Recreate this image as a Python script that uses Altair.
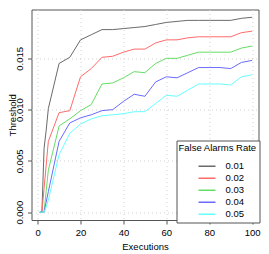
import altair as alt
import pandas as pd

executions = [1, 2, 3, 4, 5, 10, 15, 20, 25, 30, 35, 40, 45, 50,
              55, 60, 65, 70, 75, 80, 85, 90, 95, 100]
rates = ["0.01", "0.02", "0.03", "0.04", "0.05"]

thr_001 = [0, 0, 0.0062, 0.0080, 0.0101, 0.0145, 0.0151, 0.0168, 0.0173, 0.0178,
           0.0178, 0.0179, 0.0180, 0.0181, 0.0183, 0.0185, 0.0186, 0.0187, 0.0187,
           0.0187, 0.0187, 0.0187, 0.0189, 0.0190]
thr_002 = [0, 0, 0.0023, 0.0046, 0.0069, 0.0097, 0.0099, 0.0132, 0.0140, 0.0151,
           0.0152, 0.0156, 0.0159, 0.0159, 0.0165, 0.0168, 0.0168, 0.0170, 0.0171,
           0.0171, 0.0171, 0.0171, 0.0175, 0.01765]
thr_003 = [0, 0, 0, 0.0021, 0.0041, 0.0084, 0.0091, 0.0099, 0.0105, 0.0125,
           0.0126, 0.0131, 0.0137, 0.0136, 0.0145, 0.0150, 0.0150, 0.0153, 0.0156,
           0.0156, 0.0156, 0.0156, 0.0160, 0.0162]
thr_004 = [0, 0, 0, 0.0010, 0.0020, 0.0069, 0.0087, 0.0092, 0.0095, 0.0099,
           0.0100, 0.0108, 0.0115, 0.0113, 0.0127, 0.0132, 0.0131, 0.0136, 0.0141,
           0.0141, 0.0141, 0.0140, 0.0146, 0.0148]
thr_005 = [0, 0, 0, 0.0005, 0.0012, 0.0056, 0.0077, 0.0086, 0.0091, 0.0094,
           0.0095, 0.0096, 0.0098, 0.0098, 0.0106, 0.0114, 0.0113, 0.0119, 0.0125,
           0.0125, 0.0125, 0.0124, 0.0132, 0.0134]

colors = ["#6a6a6a", "#ff6a6a", "#66dd66", "#6a6aff", "#66ffff"]
x_ticks = [0, 20, 40, 60, 80, 100]
y_ticks = [0.0, 0.005, 0.010, 0.015]

series = [thr_001, thr_002, thr_003, thr_004, thr_005]
rows = []
for rate, vals in zip(rates, series):
    for x, v in zip(executions, vals):
        rows.append({"Executions": x, "Threshold": v, "rate": rate})
df = pd.DataFrame(rows)

FONT = "Liberation Sans"
FS = 9.5

chart = alt.Chart(df).mark_line(strokeWidth=1, clip=True).encode(
    x=alt.X("Executions:Q",
            scale=alt.Scale(domain=[-2.85, 102.95], nice=False, zero=False),
            axis=alt.Axis(values=x_ticks, title="Executions", format="d",
                          labelPadding=3, titlePadding=5)),
    y=alt.Y("Threshold:Q",
            scale=alt.Scale(domain=[-0.00076, 0.01976], nice=False, zero=False),
            axis=alt.Axis(values=y_ticks, format=".3f", title="Threshold",
                          labelAngle=270, labelAlign="center", labelBaseline="bottom",
                          labelPadding=3, titleAngle=270, titleAlign="center",
                          titleBaseline="middle", titleX=-19, titleY=105.25)),
    color=alt.Color("rate:N",
                    scale=alt.Scale(domain=rates, range=colors),
                    legend=alt.Legend(title="False Alarms Rate", orient="none",
                                      legendX=145, legendY=131, direction="vertical",
                                      symbolType="stroke", symbolSize=289,
                                      symbolStrokeWidth=1.5, symbolOffset=19,
                                      labelOffset=9, clipHeight=11.25, rowPadding=0,
                                      padding=2, strokeColor="#555555", fillColor="white",
                                      titleFontSize=FS, titleFontWeight="normal",
                                      titleFont=FONT, titleColor="#000000",
                                      labelFont=FONT, labelFontSize=FS,
                                      labelColor="#000000", titlePadding=8.5,
                                      cornerRadius=0)),
    detail="rate:N",
).properties(
    width=227,
    height=210.5,
    padding={"left": 23.5, "top": 1.5, "right": 2.5, "bottom": 34},
    autosize=alt.AutoSizeParams(type="none"),
).configure_view(
    stroke="#555555", strokeWidth=1
).configure_axis(
    domain=False, tickColor="#555555", tickSize=4, tickWidth=1,
    grid=True, gridColor="#d3d3d3", gridDash=[1, 3], gridWidth=1,
    labelFont=FONT, labelFontSize=FS, labelColor="#000000",
    titleFont=FONT, titleFontSize=FS, titleFontWeight="normal", titleColor="#000000",
)

chart.save("out.html", embed_options={"renderer": "svg", "actions": False})
